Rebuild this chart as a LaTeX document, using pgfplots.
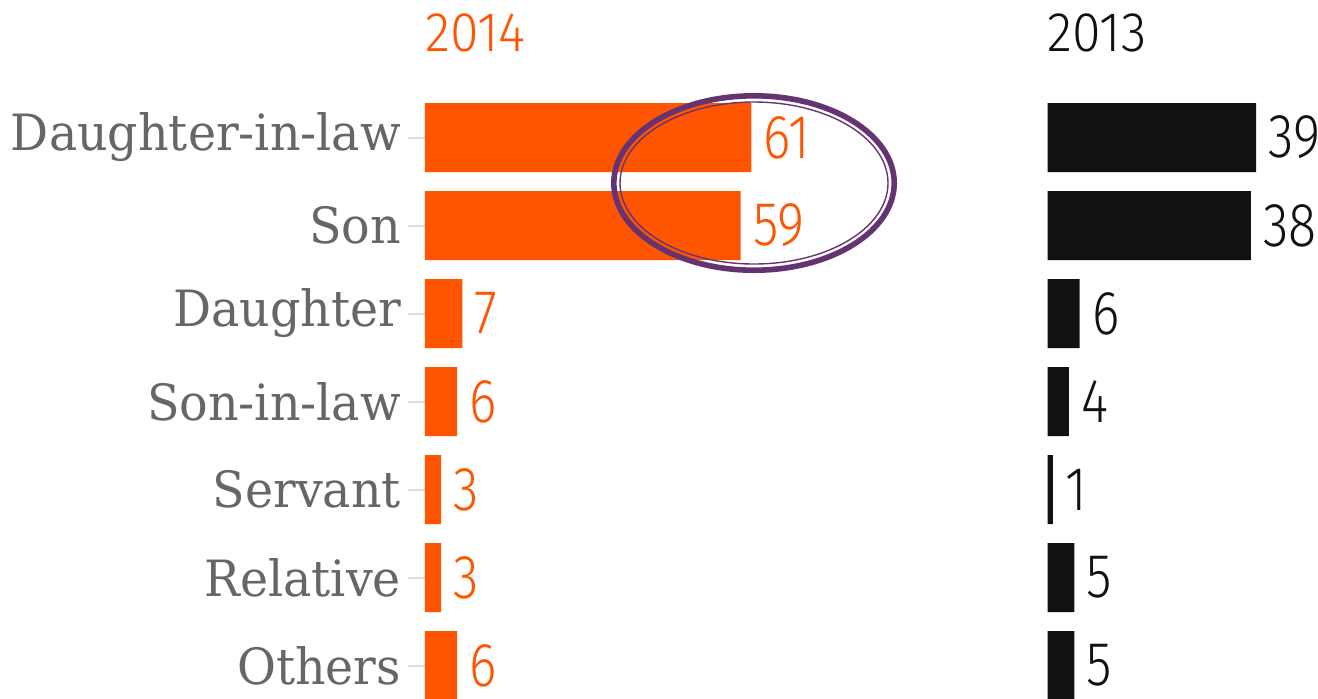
\documentclass[border=0pt]{standalone}
\usepackage{fontspec}
\usepackage{pgfplots}
\usepackage{pgfplotstable}
\pgfplotsset{compat=1.18}
\setmainfont{DejaVu Serif}
\newfontfamily\labelfont[FakeStretch=0.95]{DejaVu Serif}
\newfontfamily\numfont[FakeStretch=0.84]{Fira Sans Light}
\newfontfamily\titlefont[FakeStretch=0.93]{Fira Sans Light}
\definecolor{orng}{HTML}{FF5500}
\definecolor{barblack}{HTML}{111111}
\definecolor{lblgray}{HTML}{666666}
\definecolor{ringpurple}{HTML}{663372}
\definecolor{tickgray}{HTML}{DDDDDD}

\pgfplotstableread{
idx v2014 v2013
0 61 39
1 59 38
2 7 6
3 6 4
4 3 1
5 3 5
6 6 5
}\datatable

\pgfplotsset{
  common/.style={
    x=2.675pt, y=44pt, y dir=reverse,
    xmin=0, xmax=65, ymin=-0.5, ymax=6.5,
    enlargelimits=false,
    anchor=north west, clip=false,
    xbar, bar width=34.5pt,
    point meta=x,
    /pgf/number format/assume math mode=true,
    nodes near coords,
    nodes near coords style={font=\numfont\fontsize{31}{31}\selectfont, anchor=west, inner sep=0pt, xshift=6pt},
  }
}

\begin{document}
\begin{tikzpicture}
\path[use as bounding box] (0,0) rectangle (659pt,-349pt);
\clip (0,0) rectangle (659pt,-349pt);

\begin{axis}[common,
  at={(212.5pt,-46.75pt)},
  axis x line=none,
  axis y line*=left,
  y axis line style={draw=none},
  ytick={0,...,6},
  yticklabels={Daughter-in-law,Son,Daughter,Son-in-law,Servant,Relative,Others},
  yticklabel style={font=\labelfont\fontsize{25}{25}\selectfont, text=lblgray},
  tick align=outside,
  major tick length=8.5pt,
  ytick style={draw=tickgray, line width=1pt},
  nodes near coords style={text=orng},
]
\addplot[draw=none, fill=orng] table[x=v2014, y=idx] {\datatable};
\draw[ringpurple, line width=2.8pt] (axis cs:61.5,0.517) ellipse [x radius=70.1pt, y radius=43.6pt];
\draw[ringpurple, line width=0.7pt] (axis cs:61.5,0.517) ellipse [x radius=67pt, y radius=40.5pt];
\node[anchor=base west, inner sep=0pt, yshift=20.9pt, text=orng, font=\titlefont\fontsize{27.9}{27.9}\selectfont] at (axis cs:0,-0.5) {2014};
\end{axis}

\begin{axis}[common,
  at={(523.75pt,-46.75pt)},
  hide axis,
  nodes near coords style={text=barblack},
]
\addplot[draw=none, fill=barblack] table[x=v2013, y=idx] {\datatable};
\node[anchor=base west, inner sep=0pt, yshift=20.9pt, text=barblack, font=\titlefont\fontsize{27.9}{27.9}\selectfont] at (axis cs:0,-0.5) {2013};
\end{axis}
\end{tikzpicture}
\end{document}
